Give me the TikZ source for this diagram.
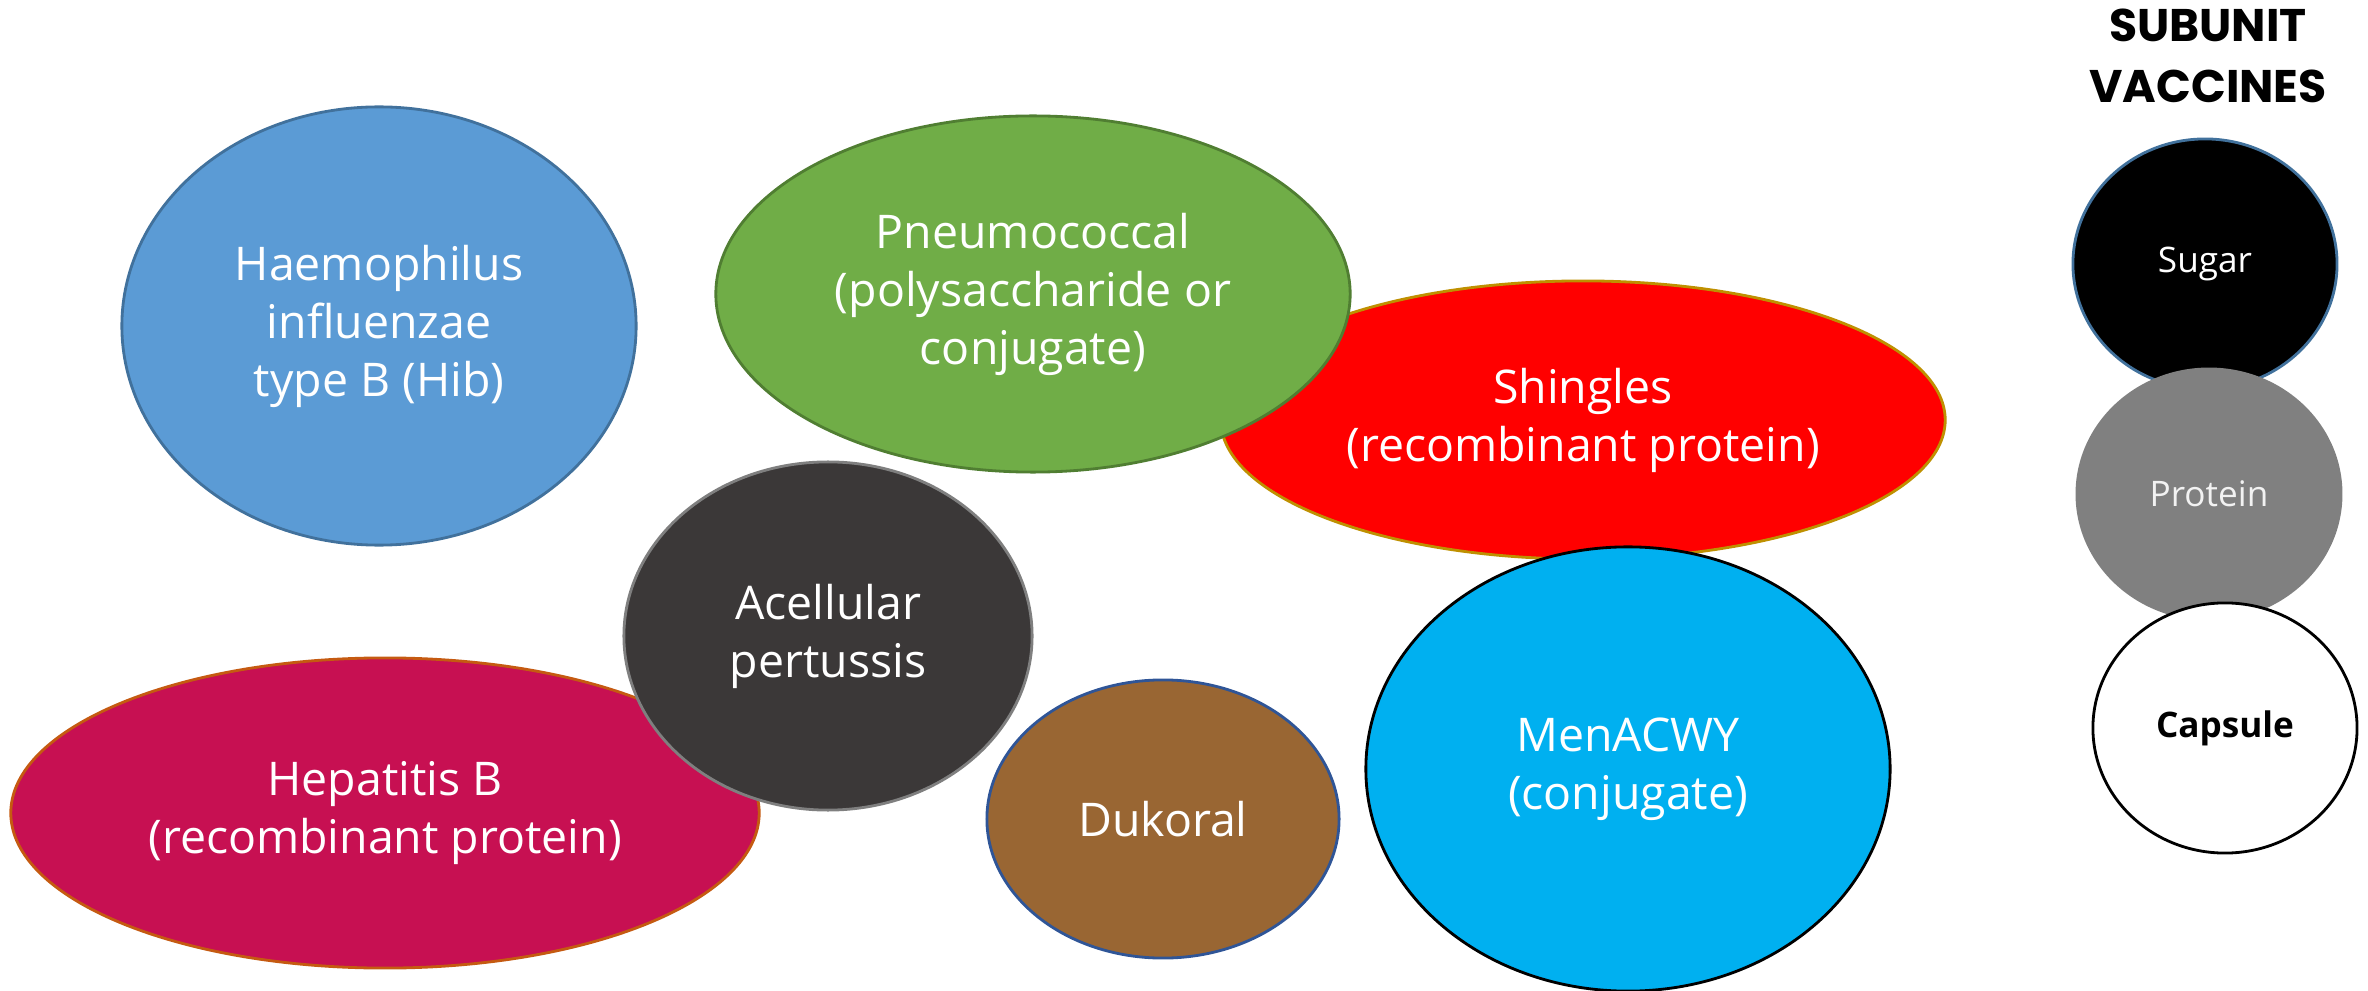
\documentclass[tikz,border=0pt]{standalone}
\usepackage{fontspec}
\setmainfont{Open Sans}
\newfontfamily\headfont{Poppins}
\usetikzlibrary{shapes.geometric}

\definecolor{hibblue}{HTML}{5B9BD5}
\definecolor{hibedge}{HTML}{41719C}
\definecolor{pneugreen}{HTML}{70AD47}
\definecolor{pneuedge}{HTML}{507E32}
\definecolor{shingedge}{HTML}{BF9000}
\definecolor{pertgray}{HTML}{3B3838}
\definecolor{pertedge}{HTML}{7F7F7F}
\definecolor{hepred}{HTML}{C71052}
\definecolor{hepedge}{HTML}{C55A11}
\definecolor{dukbrown}{HTML}{996633}
\definecolor{dukedge}{HTML}{2F5597}
\definecolor{menblue}{HTML}{00B0F0}
\definecolor{protgray}{HTML}{808080}

\begin{document}
\begin{tikzpicture}[x=0.01cm,y=-0.01cm,
  bubble/.style={ellipse,draw,line width=0.8pt,inner sep=0pt,text=white,
    align=center,font=\fontsize{13.2}{16.5}\selectfont},
  part/.style={ellipse,draw,line width=0.8pt,inner sep=0pt,
    minimum width=2.64cm,minimum height=2.5cm,font=\fontsize{10}{12}\selectfont}]

\useasboundingbox (0,0) rectangle (2368,991);

\node[bubble,fill=hibblue,draw=hibedge,minimum width=5.14cm,minimum height=4.38cm]
  (hib) at (379,326) {Haemophilus\\influenzae\\type B (Hib)};
\node[bubble,fill=red,draw=shingedge,minimum width=7.24cm,minimum height=2.78cm]
  (shingles) at (1583,420) {Shingles\\(recombinant protein)};
\node[bubble,fill=pneugreen,draw=pneuedge,minimum width=6.34cm,minimum height=3.56cm]
  (pneumo) at (1033,294) {Pneumococcal\\(polysaccharide or\\conjugate)};
\node[bubble,fill=hepred,draw=hepedge,minimum width=7.48cm,minimum height=3.1cm]
  (hepb) at (385,813) {Hepatitis B\\(recombinant protein)};
\node[bubble,fill=pertgray,draw=pertedge,minimum width=4.08cm,minimum height=3.48cm]
  (pertussis) at (828,636) {Acellular\\pertussis};
\node[bubble,fill=dukbrown,draw=dukedge,minimum width=3.52cm,minimum height=2.78cm]
  (dukoral) at (1163,819) {Dukoral};
\node[bubble,fill=menblue,draw=black,minimum width=5.24cm,minimum height=4.44cm]
  (menacwy) at (1628,769) {MenACWY\\(conjugate)};

\node[font=\headfont\bfseries\fontsize{13}{17.5}\selectfont,align=center]
  (title) at (2208,56) {SUBUNIT\\VACCINES};

\node[part,fill=black,draw=hibedge,text=white] (sugar) at (2205,264) {Sugar};
\node[part,fill=protgray,draw=protgray,text=white!95!black] (protein) at (2209,494) {Protein};
\node[part,fill=white,draw=black,font=\bfseries\fontsize{10}{12}\selectfont] (capsule) at (2225,728) {Capsule};

\end{tikzpicture}
\end{document}
